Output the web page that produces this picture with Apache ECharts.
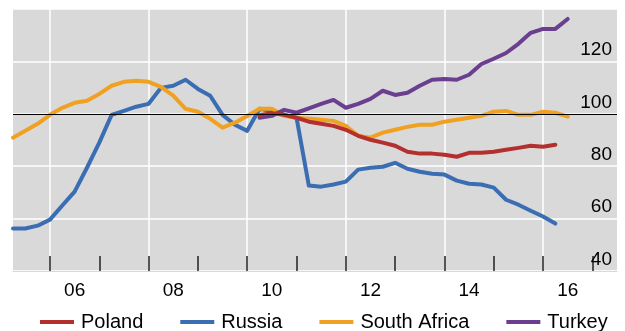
<!DOCTYPE html>
<html>
<head>
<meta charset="utf-8">
<script src="https://cdn.jsdelivr.net/npm/echarts@6/dist/echarts.min.js"></script>
<style>
html,body{margin:0;padding:0;background:#fff;}
#chart{width:625px;height:331px;}
</style>
</head>
<body>
<div id="chart"></div>
<script>
// Quarterly categories, 2005Q2 .. 2017Q3
const quarters = [
 "2005Q2","2005Q3","2005Q4",
 "2006Q1","2006Q2","2006Q3","2006Q4",
 "2007Q1","2007Q2","2007Q3","2007Q4",
 "2008Q1","2008Q2","2008Q3","2008Q4",
 "2009Q1","2009Q2","2009Q3","2009Q4",
 "2010Q1","2010Q2","2010Q3","2010Q4",
 "2011Q1","2011Q2","2011Q3","2011Q4",
 "2012Q1","2012Q2","2012Q3","2012Q4",
 "2013Q1","2013Q2","2013Q3","2013Q4",
 "2014Q1","2014Q2","2014Q3","2014Q4",
 "2015Q1","2015Q2","2015Q3","2015Q4",
 "2016Q1","2016Q2","2016Q3","2016Q4",
 "2017Q1","2017Q2","2017Q3"
];
const seriesNames = ["Poland","Russia","South Africa","Turkey"];
const yTicks = [40,60,80,100,120,140];

const poland = [
 null,null,null,
 null,null,null,null,
 null,null,null,null,
 null,null,null,null,
 null,null,null,null,
 null,99.5,100.2,99.6,
 98.5,97.0,96.2,95.4,
 93.9,91.6,90.1,89.0,
 87.8,85.5,84.8,84.8,
 84.4,83.6,85.1,85.1,
 85.5,86.3,87.0,87.8,
 87.4,88.2,null,null,
 null,null,null
];
const russia = [
 56.2,56.2,57.3,
 59.6,65.0,70.3,79.4,
 89.0,99.6,101.1,102.7,
 103.8,109.9,110.7,113.0,
 109.5,106.9,99.6,95.8,
 93.5,101.9,101.1,99.6,
 98.5,72.6,72.2,73.0,
 74.1,78.7,79.4,79.8,
 81.3,79.0,77.9,77.1,
 76.8,74.5,73.3,73.0,
 71.8,67.2,65.3,63.0,
 60.8,58.1,null,null,
 null,null,null
];
const southAfrica = [
 90.9,93.5,96.2,
 99.6,102.3,104.2,105.0,
 107.6,110.7,112.2,112.6,
 112.2,110.3,106.9,101.9,
 100.8,98.1,94.7,96.6,
 99.2,101.9,101.9,99.2,
 98.5,98.1,97.7,97.3,
 95.4,91.6,90.9,92.8,
 93.9,95.0,95.8,95.8,
 97.0,97.7,98.5,99.2,
 100.8,101.1,99.6,99.6,
 100.8,100.4,98.9,null,
 null,null,null
];
const turkey = [
 null,null,null,
 null,null,null,null,
 null,null,null,null,
 null,null,null,null,
 null,null,null,null,
 null,98.5,99.2,101.5,
 100.4,102.1,103.8,105.3,
 102.3,103.8,105.7,108.8,
 107.2,108.0,110.7,113.0,
 113.3,113.0,114.9,119.0,
 121.0,123.2,126.7,130.9,
 132.4,132.4,136.2,null,
 null,null,null
];
const colors = ["#B3302F","#3B6DB3","#F0A121","#6A3F8F"];

const FONT = "Liberation Sans, Arial, sans-serif";
const yr = v => parseInt(v.slice(0,4),10);

const chart = echarts.init(document.getElementById('chart'), null, {renderer:'canvas'});
const dataSets = [poland, russia, southAfrica, turkey];
const order = [1,2,3,0];
const series = order.map(i => ({
  name: seriesNames[i],
  type: 'line',
  data: dataSets[i],
  symbol: 'none',
  showSymbol: false,
  connectNulls: false,
  lineStyle: {color: colors[i], width: 4, cap: 'round', join: 'round'},
  itemStyle: {color: colors[i]},
  emphasis: {disabled: true},
  animation: false,
  markLine: i === 1 ? {
    silent: true,
    symbol: ['none','none'],
    label: {show:false},
    lineStyle: {color:'#000', width:1.2, type:'solid'},
    emphasis: {disabled:true},
    animation: false,
    data: [{yAxis: 100}]
  } : undefined
}));

chart.setOption({
  animation: false,
  color: colors,
  grid: {left:13, right:8, top:9, bottom:60, show:true, backgroundColor:'#d9d9d9', borderWidth:0, containLabel:false},
  xAxis: {
    type:'category', data: quarters, boundaryGap:false,
    axisLine:{show:true, lineStyle:{color:'#d9d9d9', width:1}},
    axisTick:{show:true, inside:true, length:15, interval:(i,v)=>v.endsWith('Q1'), lineStyle:{color:'#222', width:1.5}},
    axisLabel:{interval:(i,v)=>v.endsWith('Q3') && yr(v)%2===0, formatter:v=>v.slice(2,4), fontSize:19, color:'#000', margin:10, fontFamily:FONT},
    splitLine:{show:true, interval:(i,v)=>v.endsWith('Q1') && yr(v)%2===0, lineStyle:{color:'#fff', width:1.5}}
  },
  yAxis: {
    type:'value', position:'right', min:yTicks[0], max:yTicks[yTicks.length-1], interval:20,
    axisLine:{show:false}, axisTick:{show:false},
    axisLabel:{inside:true, margin:5, fontSize:19, color:'#000', fontFamily:FONT, verticalAlign:'bottom', padding:[0,0,2,0],
      formatter: v => (v === yTicks[yTicks.length-1] ? '' : String(v))},
    splitLine:{show:true, lineStyle:{color:'#fff', width:1.5}}
  },
  legend: {
    data: seriesNames, left:35, top:307, icon:'rect', itemWidth:34, itemHeight:4, itemGap:37,
    textStyle:{fontSize:20, color:'#000', fontFamily:FONT, padding:[0,0,0,2]},
    selectedMode:false
  },
  series: series
});
</script>
</body>
</html>
